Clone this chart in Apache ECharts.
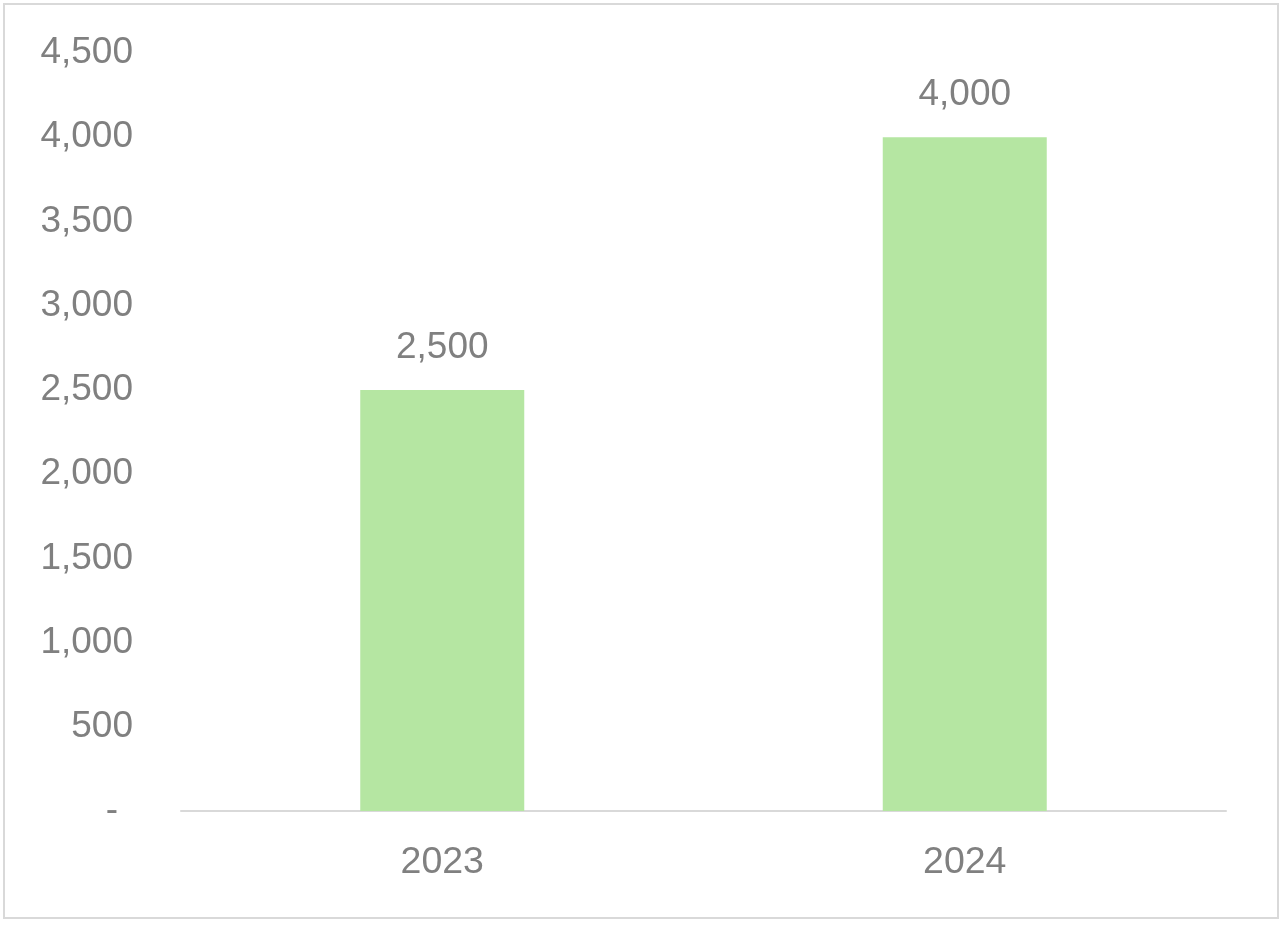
<!DOCTYPE html>
<html>
<head>
<meta charset="utf-8">
<script src="https://cdn.jsdelivr.net/npm/echarts@6/dist/echarts.min.js"></script>
<style>
html,body{margin:0;padding:0;background:#fff;}
#c{width:1287px;height:925px;}
</style>
</head>
<body>
<div id="c"></div>
<script>
var categories = ['2023', '2024'];
var values = [2500, 4000];
var yTicks = [0, 500, 1000, 1500, 2000, 2500, 3000, 3500, 4000, 4500];

function fmt(v) {
  if (v === 0) return '{z|-}';
  return v.toLocaleString('en-US');
}

var chart = echarts.init(document.getElementById('c'), null, {renderer: 'canvas'});
chart.setOption({
  animation: false,
  backgroundColor: '#ffffff',
  graphic: [{
    type: 'rect',
    shape: {x: 4, y: 4, width: 1274, height: 914},
    style: {fill: 'none', stroke: '#d9d9d9', lineWidth: 2},
    silent: true
  }],
  grid: {left: 181, right: 61, top: 53, bottom: 114, containLabel: false},
  xAxis: {
    type: 'category',
    data: categories,
    axisLine: {show: true, lineStyle: {color: '#d9d9d9', width: 2}},
    axisTick: {show: false},
    axisLabel: {
      color: '#808080',
      fontFamily: 'Liberation Sans, Arial, sans-serif',
      fontSize: 37.5,
      margin: 33
    }
  },
  yAxis: {
    type: 'value',
    min: yTicks[0],
    max: yTicks[yTicks.length - 1],
    interval: 500,
    splitLine: {show: false},
    axisLine: {show: false},
    axisTick: {show: false},
    axisLabel: {
      color: '#808080',
      fontFamily: 'Liberation Sans, Arial, sans-serif',
      fontSize: 37,
      margin: 48,
      formatter: fmt,
      rich: {
        z: {
          color: '#808080',
          fontFamily: 'Liberation Sans, Arial, sans-serif',
          fontSize: 37,
          padding: [0, 15, 0, 0]
        }
      }
    }
  },
  series: [{
    type: 'bar',
    data: values,
    barWidth: 164,
    itemStyle: {color: '#b5e6a2'},
    label: {
      show: true,
      position: 'top',
      distance: 24,
      color: '#808080',
      fontFamily: 'Liberation Sans, Arial, sans-serif',
      fontSize: 37,
      formatter: function (p) { return p.value.toLocaleString('en-US'); }
    }
  }]
});
</script>
</body>
</html>
